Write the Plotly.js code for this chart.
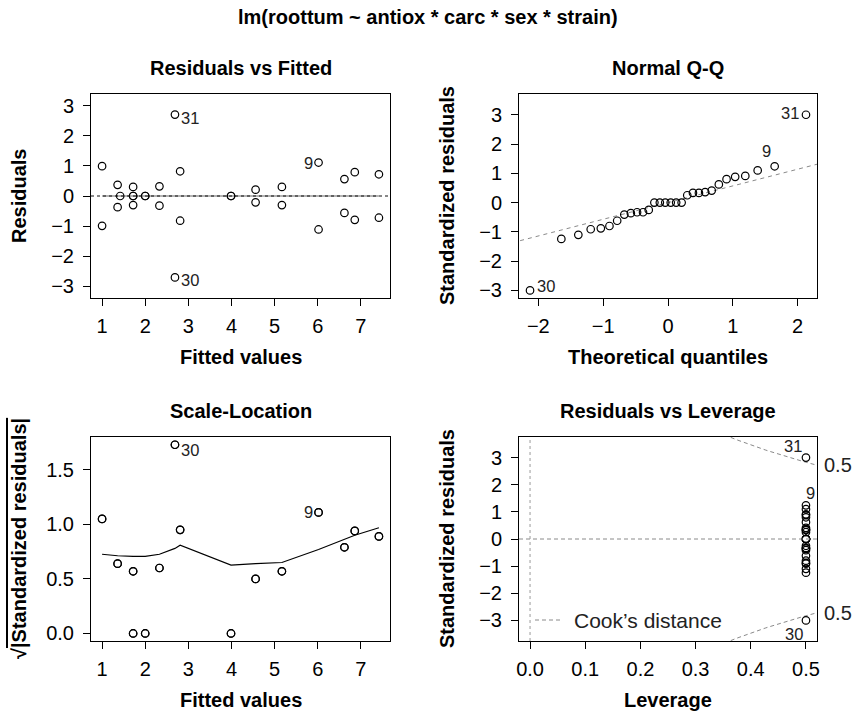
<!DOCTYPE html>
<html>
<head>
<meta charset="utf-8">
<script src="https://cdn.plot.ly/plotly-3.0.1.min.js"></script>
<style>html,body{margin:0;padding:0;background:#fff;}#chart{width:856px;height:712px;}</style>
</head>
<body>
<div id="chart"></div>
<script>
// ---------------- data (one entry per observation, obs number = index + 1) ----------------
const fittedValues = [1.00, 1.00, 1.36, 1.36, 1.72, 1.72, 6.62, 6.62, 6.02, 6.02,
                      2.33, 2.33, 1.72, 1.72, 2.00, 2.00, 4.56, 4.56, 5.17, 5.17,
                      3.99, 3.99, 6.86, 6.86, 7.42, 7.42, 2.81, 2.81, 1.42, 2.69, 2.69];
const residualValues = [0.99, -0.99, 0.37, -0.37, 0.30, -0.30, 0.56, -0.56, 1.11, -1.11,
                        0.32, -0.32, 0.00, 0.00, 0.00, 0.00, 0.21, -0.21, 0.30, -0.30,
                        0.00, 0.00, 0.79, -0.79, 0.72, -0.72, 0.82, -0.82, 0.00, -2.70, 2.70];
// standardized residuals (obs 29 has leverage one -> not plotted)
const stdResiduals = [1.10, -1.10, 0.41, -0.41, 0.33, -0.33, 0.62, -0.62, 1.24, -1.24,
                      0.36, -0.36, 0.00, 0.00, 0.00, 0.00, 0.25, -0.25, 0.33, -0.33,
                      0.00, 0.00, 0.88, -0.88, 0.80, -0.80, 0.91, -0.91, null, -3.00, 3.00];
const sqrtAbsStd = [1.05, 1.05, 0.64, 0.64, 0.57, 0.57, 0.79, 0.79, 1.11, 1.11,
                    0.60, 0.60, 0.00, 0.00, 0.00, 0.00, 0.50, 0.50, 0.57, 0.57,
                    0.00, 0.00, 0.94, 0.94, 0.89, 0.89, 0.95, 0.95, null, 1.73, 1.73];
const leverageValues = [0.5, 0.5, 0.5, 0.5, 0.5, 0.5, 0.5, 0.5, 0.5, 0.5,
                        0.5, 0.5, 0.5, 0.5, 0.5, 0.5, 0.5, 0.5, 0.5, 0.5,
                        0.5, 0.5, 0.5, 0.5, 0.5, 0.5, 0.5, 0.5, null, 0.5, 0.5];
// Normal Q-Q
const qqTheoretical = [-2.128, -1.645, -1.383, -1.192, -1.036, -0.903, -0.784, -0.674, -0.573, -0.477,
                       -0.385, -0.297, -0.210, -0.126, -0.042, 0.042, 0.126, 0.210, 0.297, 0.385,
                       0.477, 0.573, 0.674, 0.784, 0.903, 1.036, 1.192, 1.383, 1.645, 2.128];
const qqSample = [-3.00, -1.24, -1.10, -0.91, -0.88, -0.80, -0.62, -0.41, -0.36, -0.33,
                  -0.33, -0.25, 0.00, 0.00, 0.00, 0.00, 0.00, 0.00, 0.25, 0.33,
                  0.33, 0.36, 0.41, 0.62, 0.80, 0.88, 0.91, 1.10, 1.24, 3.00];
const qqLineIntercept = 0.0, qqLineSlope = 0.57;
// smoothers
const rvfSmoothX = [1.00, 1.36, 1.42, 1.72, 2.00, 2.33, 2.69, 2.81, 3.99, 4.56, 5.17, 6.02, 6.62, 6.86, 7.42];
const rvfSmoothY = [0, 0, 0, 0, 0, 0, 0, 0, 0, 0, 0, 0, 0, 0, 0];
const slSmoothX = [1.00, 1.36, 1.72, 2.00, 2.33, 2.69, 2.81, 3.99, 4.56, 5.17, 6.02, 6.62, 6.86, 7.42];
const slSmoothY = [0.726, 0.713, 0.707, 0.707, 0.726, 0.78, 0.809, 0.627, 0.64, 0.651, 0.77, 0.86, 0.90, 0.97];
// Cook's distance contours
const cookLevels = [0.5, 1];
const nCoefficients = 16;
// labelled observations per panel
const labRvF = [31, 30, 9];
const labQQ = [31, 30, 9];
const labSL = [30, 9];
const labLev = [31, 30, 9];

// ---------------- styling ----------------
const FONT = 'Liberation Sans, Arial, Helvetica, sans-serif';
const TICK = 20, TITLE = 20, LAB = 16.5;
const W = 856, H = 712;
const px = v => v / W, py = v => 1 - v / H;
const colX = [[91, 390], [519, 817]];
const rowY = [[94, 298], [437, 641]];

function axis(domPx, horiz, range, extra) {
  const dom = horiz ? [px(domPx[0]), px(domPx[1])] : [py(domPx[1]), py(domPx[0])];
  return Object.assign({
    domain: dom, range: range, autorange: false,
    showline: true, mirror: true, linecolor: '#000', linewidth: 1,
    ticks: 'outside', ticklen: 7, tickwidth: 1, tickcolor: '#000',
    showgrid: false, zeroline: false, automargin: false,
    tickfont: {family: FONT, size: TICK, color: '#000'},
    ticklabelstandoff: horiz ? 3 : 5
  }, extra || {});
}

const mk = {symbol: 'circle-open', size: 7.5, color: '#000', line: {width: 1.2, color: '#000'}};
const traces = [];
// panel 1
traces.push({x: rvfSmoothX, y: rvfSmoothY, xaxis: 'x', yaxis: 'y', mode: 'lines',
  line: {color: '#9a9a9a', width: 1.3}, hoverinfo: 'skip'});
traces.push({x: fittedValues, y: residualValues, xaxis: 'x', yaxis: 'y', mode: 'markers', marker: mk});
// panel 2
const qqX0 = -2.4, qqX1 = 2.4;
traces.push({x: [qqX0, qqX1], y: [qqLineIntercept + qqLineSlope * qqX0, qqLineIntercept + qqLineSlope * qqX1],
  xaxis: 'x2', yaxis: 'y2', mode: 'lines', line: {color: '#8a8a8a', width: 1, dash: '4px,4px'}});
traces.push({x: qqTheoretical, y: qqSample, xaxis: 'x2', yaxis: 'y2', mode: 'markers', marker: mk});
// panel 3
traces.push({x: slSmoothX, y: slSmoothY, xaxis: 'x3', yaxis: 'y3', mode: 'lines', line: {color: '#000', width: 1.1}});
traces.push({x: fittedValues, y: sqrtAbsStd, xaxis: 'x3', yaxis: 'y3', mode: 'markers', marker: mk});
// panel 4 : Cook's distance contours
cookLevels.forEach(lv => {
  const hh = [], up = [], dn = [];
  for (let i = 0; i <= 100; i++) {
    const h = 0.05 + (0.52 - 0.05) * i / 100;
    hh.push(h);
    const c = Math.sqrt(lv * nCoefficients * (1 - h) / h);
    up.push(c); dn.push(-c);
  }
  [up, dn].forEach(yy => traces.push({x: hh, y: yy, xaxis: 'x4', yaxis: 'y4', mode: 'lines',
    line: {color: '#8a8a8a', width: 1, dash: '4px,3px'}}));
});
traces.push({x: leverageValues, y: stdResiduals, xaxis: 'x4', yaxis: 'y4', mode: 'markers', marker: mk});

// ---------------- annotations ----------------
const ann = [];
function txt(text, x, y, opts) {
  ann.push(Object.assign({text: text, x: x, y: y, xref: 'paper', yref: 'paper', showarrow: false,
    xanchor: 'center', yanchor: 'middle', font: {family: FONT, size: TITLE, color: '#000'}}, opts || {}));
}
txt('<b>lm(roottum ~ antiox * carc * sex * strain)</b>', 0.5, py(17));
const titles = [['Residuals vs Fitted', 0, 0], ['Normal Q-Q', 1, 0], ['Scale-Location', 0, 1], ['Residuals vs Leverage', 1, 1]];
titles.forEach(t => txt('<b>' + t[0] + '</b>', px((colX[t[1]][0] + colX[t[1]][1]) / 2), py(rowY[t[2]][0] - 26)));
const xt = [['Fitted values', 0, 0], ['Theoretical quantiles', 1, 0], ['Fitted values', 0, 1], ['Leverage', 1, 1]];
xt.forEach(t => txt('<b>' + t[0] + '</b>', px((colX[t[1]][0] + colX[t[1]][1]) / 2), py(rowY[t[2]][1] + 59)));
const yt = [['Residuals', 0, 0], ['Standardized residuals', 1, 0],
            ['√<span style="text-decoration:overline">|Standardized residuals|</span>', 0, 1], ['Standardized residuals', 1, 1]];
yt.forEach(t => txt('<b>' + t[0] + '</b>', px(colX[t[1]][0] - 72), py((rowY[t[2]][0] + rowY[t[2]][1]) / 2), {textangle: -90}));

function lab(id, xs, ys, xa, ya, side, dx, dy) {
  const i = id - 1;
  ann.push({text: String(id), x: xs[i], y: ys[i], xref: xa, yref: ya, showarrow: false,
    xanchor: side, yanchor: 'middle', xshift: dx, yshift: dy,
    font: {family: FONT, size: LAB, color: '#222'}});
}
labRvF.forEach(id => {
  const right = fittedValues[id - 1] < 4.2;
  lab(id, fittedValues, residualValues, 'x', 'y', right ? 'left' : 'right', right ? 4 : -4, right ? -3 : 0);
});
// Q-Q labels (placed by rank position)
const qqIdx = {30: 0, 9: 28, 31: 29};
labQQ.forEach(id => {
  const k = qqIdx[id];
  const opts = id === 30 ? ['left', 5, 4] : (id === 9 ? ['center', -8, 15] : ['right', -5, 2]);
  ann.push({text: String(id), x: qqTheoretical[k], y: qqSample[k], xref: 'x2', yref: 'y2', showarrow: false,
    xanchor: opts[0], yanchor: 'middle', xshift: opts[1], yshift: opts[2], font: {family: FONT, size: LAB, color: '#222'}});
});
labSL.forEach(id => {
  const right = fittedValues[id - 1] < 4.2;
  lab(id, fittedValues, sqrtAbsStd, 'x3', 'y3', right ? 'left' : 'right', right ? 4 : -4, right ? -5 : 0);
});
const levOff = {31: ['center', -13, 12], 9: ['center', 5, 12], 30: ['center', -12, -14]};
labLev.forEach(id => {
  const o = levOff[id];
  lab(id, leverageValues, stdResiduals, 'x4', 'y4', o[0], o[1], o[2]);
});
// Cook's distance level labels on the right side
const xmaxLev = 0.52;
cookLevels.forEach(lv => {
  const yv = Math.sqrt(lv * nCoefficients * (1 - xmaxLev) / xmaxLev);
  if (yv < 3.75) {
    [yv, -yv].forEach(v => ann.push({text: String(lv), x: px(822), y: v, xref: 'paper', yref: 'y4', showarrow: false,
      xanchor: 'left', yanchor: 'middle', font: {family: FONT, size: TICK, color: '#222'}}));
  }
});
// legend
ann.push({text: "Cook’s distance", x: px(572), y: py(620), xref: 'paper', yref: 'paper', showarrow: false,
  xanchor: 'left', yanchor: 'middle', font: {family: FONT, size: 21, color: '#222'}});

const shapes = [
  {type: 'line', xref: 'x domain', yref: 'y', x0: 0, x1: 1, y0: 0, y1: 0, line: {color: '#111', width: 1, dash: '3px,3px'}},
  {type: 'line', xref: 'x4 domain', yref: 'y4', x0: 0, x1: 1, y0: 0, y1: 0, line: {color: '#8a8a8a', width: 1, dash: '4px,3px'}},
  {type: 'line', xref: 'x4', yref: 'y4 domain', x0: 0, x1: 0, y0: 0, y1: 1, line: {color: '#9a9a9a', width: 1, dash: 'dot'}},
  {type: 'line', xref: 'paper', yref: 'paper', x0: px(535), x1: px(563), y0: py(620), y1: py(620), line: {color: '#8a8a8a', width: 1, dash: '4px,3px'}}
];

const layout = {
  width: W, height: H, showlegend: false,
  margin: {l: 0, r: 0, t: 0, b: 0, pad: 0},
  paper_bgcolor: '#fff', plot_bgcolor: '#fff',
  font: {family: FONT, color: '#000'},
  xaxis: axis(colX[0], true, [0.743, 7.677], {anchor: 'y', tickvals: [1, 2, 3, 4, 5, 6, 7]}),
  yaxis: axis(rowY[0], false, [-3.383, 3.383], {anchor: 'x', tickvals: [-3, -2, -1, 0, 1, 2, 3]}),
  xaxis2: axis(colX[1], true, [-2.298, 2.298], {anchor: 'y2', tickvals: [-2, -1, 0, 1, 2]}),
  yaxis2: axis(rowY[0], false, [-3.258, 3.708], {anchor: 'x2', tickvals: [-3, -2, -1, 0, 1, 2, 3]}),
  xaxis3: axis(colX[0], true, [0.743, 7.677], {anchor: 'y3', tickvals: [1, 2, 3, 4, 5, 6, 7]}),
  yaxis3: axis(rowY[1], false, [-0.069, 1.801], {anchor: 'x3', tickvals: [0, 0.5, 1, 1.5], tickformat: '.1f'}),
  xaxis4: axis(colX[1], true, [-0.02, 0.52], {anchor: 'y4', tickvals: [0, 0.1, 0.2, 0.3, 0.4, 0.5], tickformat: '.1f'}),
  yaxis4: axis(rowY[1], false, [-3.758, 3.758], {anchor: 'x4', tickvals: [-3, -2, -1, 0, 1, 2, 3]}),
  annotations: ann, shapes: shapes
};
Plotly.newPlot('chart', traces, layout, {staticPlot: true, displayModeBar: false});
</script>
</body>
</html>
